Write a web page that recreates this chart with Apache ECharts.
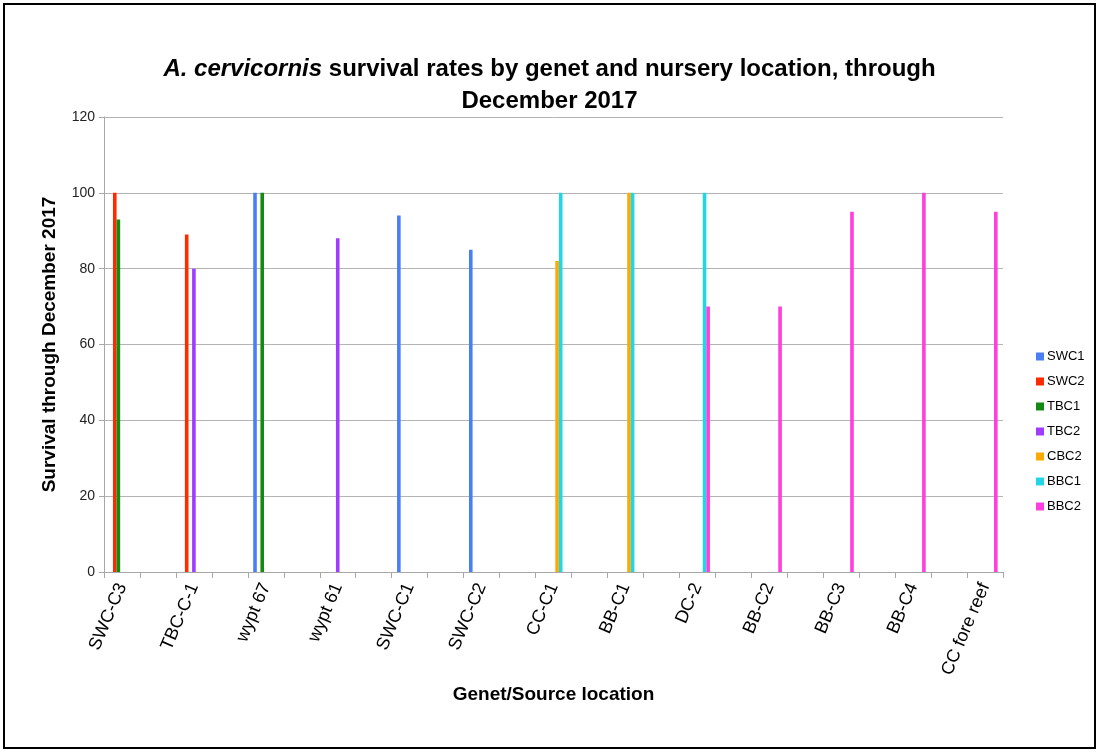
<!DOCTYPE html>
<html>
<head>
<meta charset="utf-8">
<script src="https://cdn.jsdelivr.net/npm/echarts@6/dist/echarts.min.js"></script>
<style>
  html, body { margin: 0; padding: 0; background: #fff; }
  #frame {
    position: absolute; left: 3px; top: 3px;
    width: 1093px; height: 746px;
    border: 2px solid #000; box-sizing: border-box;
  }
  #chart { position: absolute; left: 0; top: 0; width: 1099px; height: 752px; }
</style>
</head>
<body>
<div id="chart"></div>
<div id="frame"></div>
<script>
// genets (one labelled slot, then one empty slot, as in the original sheet)
const genets = ['SWC-C3', 'TBC-C-1', 'wypt 67', 'wypt 61', 'SWC-C1', 'SWC-C2',
  'CC-C1', 'BB-C1', 'DC-2', 'BB-C2', 'BB-C3', 'BB-C4', 'CC fore reef']

// survival (%) per nursery, one value per genet
const swc1 = [null, null, 100, null, 94, 85, null, null, null, null, null, null, null]
const swc2 = [100, 89, null, null, null, null, null, null, null, null, null, null, null]
const tbc1 = [93, null, 100, null, null, null, null, null, null, null, null, null, null]
const tbc2 = [null, 80, null, 88, null, null, null, null, null, null, null, null, null]
const cbc2 = [null, null, null, null, null, null, 82, 100, null, null, null, null, null]
const bbc1 = [null, null, null, null, null, null, 100, 100, 100, null, null, null, null]
const bbc2 = [null, null, null, null, null, null, null, null, 70, 70, 95, 100, 95]

const yTicks = { min: 0, max: 120, interval: 20 }

// put an empty category between every two genets
const spread = arr => arr.flatMap((v, i) => i < arr.length - 1 ? [v, null] : [v])
const categories = spread(genets).map(v => v === null ? '' : v)

const nurseries = [
  { name: 'SWC1', data: swc1, color: '#4a7ef5' },
  { name: 'SWC2', data: swc2, color: '#ff2a00' },
  { name: 'TBC1', data: tbc1, color: '#138a13' },
  { name: 'TBC2', data: tbc2, color: '#a03cff' },
  { name: 'CBC2', data: cbc2, color: '#ffaa00' },
  { name: 'BBC1', data: bbc1, color: '#22d6e6' },
  { name: 'BBC2', data: bbc2, color: '#ff3ee0' }
]

const font = 'Liberation Sans'
const myChart = echarts.init(document.getElementById('chart'))

const option = {
  backgroundColor: '#fff',
  animation: false,
  title: {
    left: 'center',
    top: 48,
    text: '{i|A. cervicornis} survival rates by genet and nursery location, through\nDecember 2017',
    textStyle: {
      fontFamily: font,
      fontSize: 24,
      fontWeight: 'bold',
      color: '#000',
      lineHeight: 32,
      rich: {
        i: { fontFamily: font, fontSize: 24, fontWeight: 'bold', fontStyle: 'italic', color: '#000', lineHeight: 32 }
      }
    }
  },
  legend: {
    orient: 'vertical',
    left: 1031,
    top: 345,
    itemWidth: 8,
    itemHeight: 8,
    itemGap: 12,
    icon: 'rect',
    textStyle: { fontFamily: font, fontSize: 13, color: '#000', padding: [0, 0, 0, -2] },
    data: nurseries.map(n => n.name)
  },
  grid: { left: 104, right: 96, top: 117, bottom: 180 },
  xAxis: {
    type: 'category',
    data: categories,
    name: 'Genet/Source location',
    nameLocation: 'middle',
    nameGap: 106,
    nameTextStyle: { fontFamily: font, fontSize: 19, fontWeight: 'bold', color: '#000' },
    axisLine: { lineStyle: { color: '#a8a8a8', width: 1 } },
    axisTick: { show: true, interval: 0, alignWithLabel: false, length: 6, lineStyle: { color: '#a8a8a8' } },
    axisLabel: { interval: 0, rotate: 67, margin: 12, fontFamily: font, fontSize: 18, color: '#000' }
  },
  yAxis: {
    type: 'value',
    min: yTicks.min,
    max: yTicks.max,
    interval: yTicks.interval,
    name: 'Survival through December 2017',
    nameLocation: 'middle',
    nameGap: 45,
    nameTextStyle: { fontFamily: font, fontSize: 19, fontWeight: 'bold', color: '#000' },
    axisLine: { show: true, lineStyle: { color: '#a8a8a8', width: 1 } },
    axisTick: { show: true, length: 5, lineStyle: { color: '#a8a8a8' } },
    axisLabel: { margin: 9, fontFamily: font, fontSize: 14, color: '#222' },
    splitLine: { lineStyle: { color: '#b4b4b4', width: 1 } }
  },
  series: nurseries.map(n => ({
    name: n.name,
    type: 'bar',
    barWidth: 3.6,
    barGap: '0%',
    itemStyle: { color: n.color },
    data: spread(n.data)
  }))
}
myChart.setOption(option)
</script>
</body>
</html>
